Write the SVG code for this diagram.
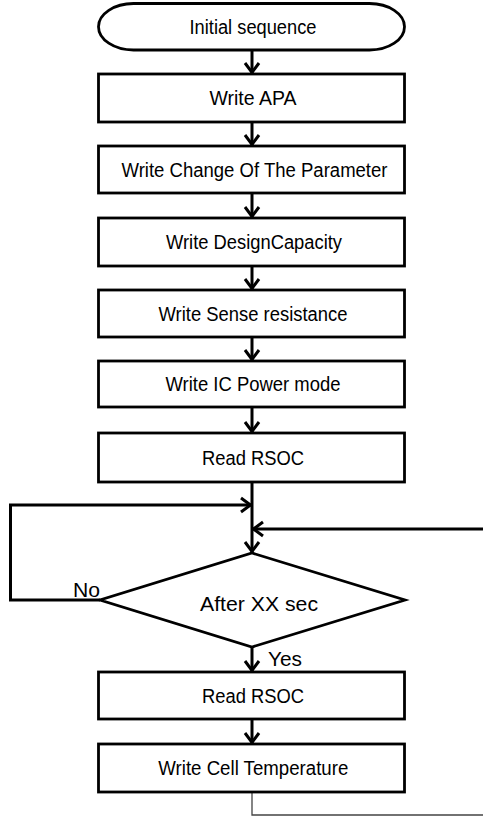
<svg xmlns="http://www.w3.org/2000/svg" width="483" height="816" viewBox="0 0 483 816">
<style>
.shape{fill:#fff;stroke:#000;stroke-width:2.8}
.lbl{font-family:"Liberation Sans",Arial,sans-serif;font-size:19.5px;fill:#000;text-anchor:middle}
.lbls{font-family:"Liberation Sans",Arial,sans-serif;font-size:19.5px;fill:#000}
.conn{fill:none;stroke:#000;stroke-width:3}
.thin{fill:none;stroke:#444;stroke-width:1.3}
</style>
<defs>
<marker id="ah" markerUnits="userSpaceOnUse" viewBox="-15 -10 17 20" refX="0" refY="0" markerWidth="17" markerHeight="20" orient="auto">
<path d="M -11,-7 L -1.5,0 L -11,7" fill="none" stroke="#000" stroke-width="3"/>
</marker>
</defs>
<rect width="483" height="816" fill="#fff"/>
<g id="connectors">
<path class="conn" d="M252,50 V74" marker-end="url(#ah)"/>
<path class="conn" d="M252,122 V146" marker-end="url(#ah)"/>
<path class="conn" d="M252,193 V218" marker-end="url(#ah)"/>
<path class="conn" d="M252,266 V290" marker-end="url(#ah)"/>
<path class="conn" d="M252,337 V361" marker-end="url(#ah)"/>
<path class="conn" d="M252,407 V433" marker-end="url(#ah)"/>
<path class="conn" d="M252,482 V553" marker-end="url(#ah)"/>
<path class="conn" d="M100,600 H10.5 V505 H252" marker-end="url(#ah)"/>
<path class="conn" d="M483,529 H252" marker-end="url(#ah)"/>
<path class="conn" d="M252,647 V672" marker-end="url(#ah)"/>
<path class="conn" d="M252,719 V744" marker-end="url(#ah)"/>
<path class="thin" d="M252,792 V815 H483"/>
</g>
<g id="start">
<rect class="shape" x="98.5" y="3.5" width="306" height="46.5" rx="35" ry="23.25"/>
<text class="lbl" x="253" y="34" textLength="127" lengthAdjust="spacingAndGlyphs">Initial sequence</text>
</g>
<g id="write-apa">
<rect class="shape" x="98.5" y="74" width="306" height="48"/>
<text class="lbl" x="253" y="105" textLength="87" lengthAdjust="spacingAndGlyphs">Write APA</text>
</g>
<g id="write-change">
<rect class="shape" x="98.5" y="146" width="306" height="47"/>
<text class="lbl" x="254.5" y="177" textLength="266" lengthAdjust="spacingAndGlyphs">Write Change Of The Parameter</text>
</g>
<g id="write-design">
<rect class="shape" x="98.5" y="218" width="306" height="48"/>
<text class="lbl" x="254" y="249" textLength="176" lengthAdjust="spacingAndGlyphs">Write DesignCapacity</text>
</g>
<g id="write-sense">
<rect class="shape" x="98.5" y="290" width="306" height="47"/>
<text class="lbl" x="253" y="321" textLength="189" lengthAdjust="spacingAndGlyphs">Write Sense resistance</text>
</g>
<g id="write-ic">
<rect class="shape" x="98.5" y="361" width="306" height="46"/>
<text class="lbl" x="253" y="391" textLength="175" lengthAdjust="spacingAndGlyphs">Write IC Power mode</text>
</g>
<g id="read-rsoc-1">
<rect class="shape" x="98.5" y="433" width="306" height="49"/>
<text class="lbl" x="253" y="464.5" textLength="102" lengthAdjust="spacingAndGlyphs">Read RSOC</text>
</g>
<g id="decision">
<polygon class="shape" points="252,553 405,600 252,647 100,600"/>
<text class="lbl" x="259" y="610.5" textLength="118" lengthAdjust="spacingAndGlyphs">After XX sec</text>
<text class="lbls" x="73" y="597" textLength="27" lengthAdjust="spacingAndGlyphs">No</text>
<text class="lbls" x="268" y="665.5" textLength="34" lengthAdjust="spacingAndGlyphs">Yes</text>
</g>
<g id="read-rsoc-2">
<rect class="shape" x="98.5" y="672" width="306" height="47"/>
<text class="lbl" x="253" y="703" textLength="102" lengthAdjust="spacingAndGlyphs">Read RSOC</text>
</g>
<g id="write-cell">
<rect class="shape" x="98.5" y="744" width="306" height="48"/>
<text class="lbl" x="253.3" y="775" textLength="190" lengthAdjust="spacingAndGlyphs">Write Cell Temperature</text>
</g>
</svg>
